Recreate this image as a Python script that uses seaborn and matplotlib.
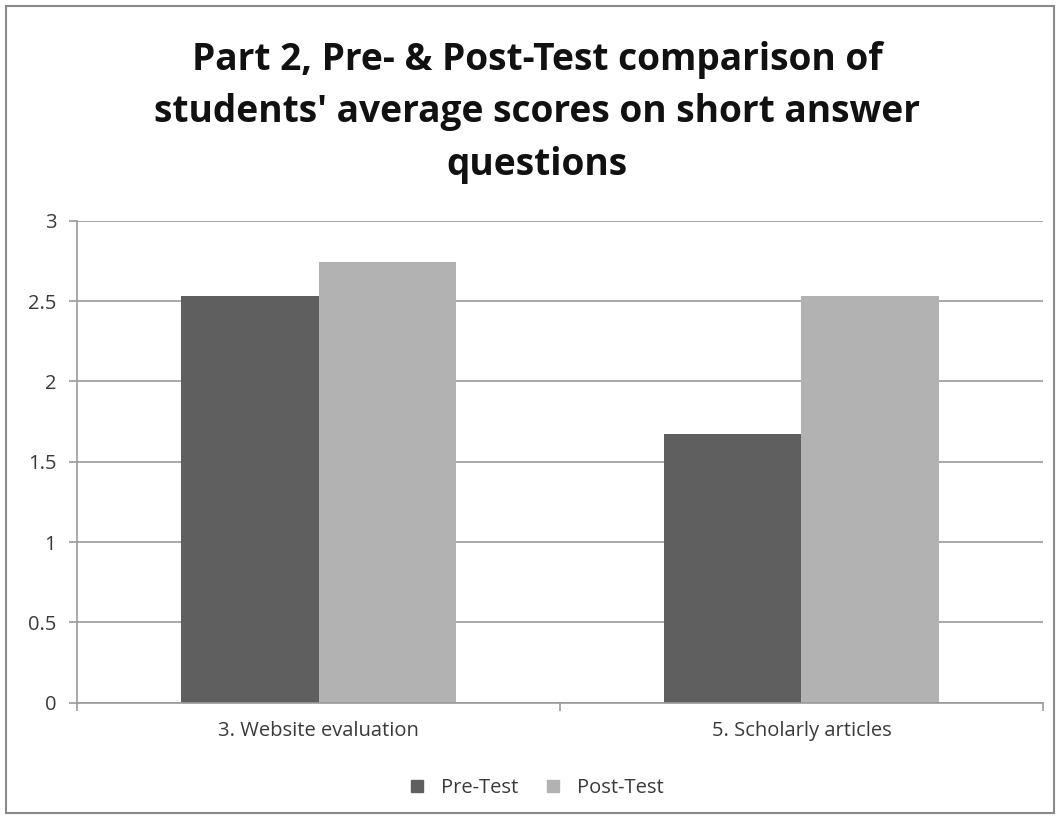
import matplotlib
matplotlib.use("Agg")
import matplotlib.pyplot as plt
import seaborn as sns
import pandas as pd
from matplotlib.patches import Rectangle
from matplotlib.lines import Line2D

categories = ["3. Website evaluation", "5. Scholarly articles"]
series_names = ["Pre-Test", "Post-Test"]
pre_test = [2.53, 1.67]
post_test = [2.74, 2.53]
y_ticks = [0, 0.5, 1, 1.5, 2, 2.5, 3]
title = "Part 2, Pre- & Post-Test comparison of\nstudents' average scores on short answer\nquestions"

colors = ["#5f5f5f", "#b2b2b2"]

df = pd.DataFrame({
    "category": categories * 2,
    "series": [series_names[0]] * 2 + [series_names[1]] * 2,
    "value": pre_test + post_test,
})

sns.set_style("white")
plt.rcParams["font.family"] = ["Open Sans", "DejaVu Sans"]

fig = plt.figure(figsize=(10.61, 8.19), dpi=100)
ax = fig.add_axes([0.0726, 0.142, 0.983 - 0.0726, 0.7305 - 0.142])

sns.barplot(data=df, x="category", y="value", hue="series", palette=colors,
            width=0.57, gap=0, ax=ax, legend=False, saturation=1, edgecolor="none")

ax.set_ylim(0, 3)
ax.set_xlim(-0.5, 1.5)
ax.set_yticks(y_ticks)
ax.set_yticklabels([f"{t:g}" for t in y_ticks])
ax.set_xlabel("")
ax.set_ylabel("")
ax.yaxis.grid(True, color="#9a9a9a", linewidth=1.2)
ax.set_axisbelow(True)
for s in ["top", "right"]:
    ax.spines[s].set_visible(False)
for s in ["left", "bottom"]:
    ax.spines[s].set_color("#9a9a9a")
    ax.spines[s].set_linewidth(1.2)

ax.tick_params(axis="y", which="major", length=6, color="#9a9a9a", width=1.2,
               labelsize=14.5, labelcolor="#3a3a3a", pad=9, direction="out", left=True)
ax.set_xticks([-0.5, 0.5, 1.5], minor=True)
ax.tick_params(axis="x", which="minor", length=6, color="#9a9a9a", width=1.2, direction="out", bottom=True)
ax.tick_params(axis="x", which="major", length=0, labelsize=14.5, labelcolor="#3a3a3a", pad=13)

fig.text(0.506, 0.95, title, ha="center", va="top", fontsize=26.7, fontweight="bold",
         color="#111111", linespacing=1.5)

handles = [Line2D([0], [0], marker="s", linestyle="none", markersize=8,
                  markerfacecolor=c, markeredgecolor=c) for c in colors]
fig.legend(handles, series_names, loc="center", bbox_to_anchor=(0.5, 0.038), ncol=2,
           frameon=False, fontsize=14.5, labelcolor="#3a3a3a", handletextpad=0.2,
           columnspacing=0.7)

fig.patches.append(Rectangle((0.006, 0.007), 0.987, 0.986, transform=fig.transFigure,
                             fill=False, edgecolor="#8a8a8a", linewidth=1.5))

fig.savefig("out.png", dpi=100, facecolor="white")
